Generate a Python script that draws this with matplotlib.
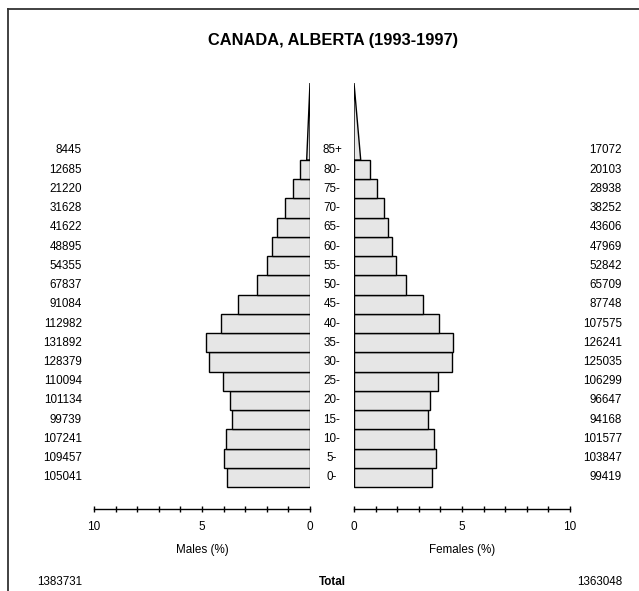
import matplotlib
matplotlib.use("Agg")
import matplotlib.pyplot as plt
from matplotlib.patches import Polygon
from matplotlib.lines import Line2D
import matplotlib.transforms as mtransforms

plt.rcParams['font.family'] = ['Liberation Sans', 'DejaVu Sans']

title = "CANADA, ALBERTA (1993-1997)"
age_groups = ["0-", "5-", "10-", "15-", "20-", "25-", "30-", "35-", "40-",
              "45-", "50-", "55-", "60-", "65-", "70-", "75-", "80-", "85+"]
males = [105041, 109457, 107241, 99739, 101134, 110094, 128379, 131892, 112982,
         91084, 67837, 54355, 48895, 41622, 31628, 21220, 12685, 8445]
females = [99419, 103847, 101577, 94168, 96647, 106299, 125035, 126241, 107575,
           87748, 65709, 52842, 47969, 43606, 38252, 28938, 20103, 17072]
male_total = 1383731
female_total = 1363048
tick_values = list(range(0, 11))
tick_labels = ["0" if v == 0 else ("5" if v == 5 else ("10" if v == 10 else "")) for v in tick_values]

W, H = 639, 591
fig = plt.figure(figsize=(W / 100, H / 100), dpi=100)
fig.patch.set_facecolor("white")

grand = male_total + female_total
mpct = [m / grand * 100 for m in males]
fpct = [f / grand * 100 for f in females]

# axes geometry (pixels)
y_top_px, y_axis_px = 83, 509
ylo, yhi = -1.64, 20.5
def fx(px):
    return px / W
ax_b = (H - y_axis_px) / H
ax_h = (y_axis_px - y_top_px) / H
axm = fig.add_axes([fx(94), ax_b, fx(310) - fx(94), ax_h])
axf = fig.add_axes([fx(354), ax_b, fx(570) - fx(354), ax_h])

face = "#e6e6e6"
n = len(age_groups)
for ax, pct in ((axm, mpct), (axf, fpct)):
    ax.barh(range(n - 1), pct[:n - 1], height=1.0, left=0, color=face,
            edgecolor="black", linewidth=1.0)
    w = pct[-1] / 2.0
    tri = Polygon([(0, n - 1.5), (w, n - 1.5), (0, n + 2.5)], closed=True,
                  facecolor=face, edgecolor="black", linewidth=1.0)
    ax.add_patch(tri)
    ax.set_ylim(ylo, yhi)
    ax.set_facecolor("none")
    for s in ("left", "right", "top"):
        ax.spines[s].set_visible(False)
    ax.spines["bottom"].set_linewidth(1.0)
    ax.set_yticks([])
    ax.set_xticks(tick_values)
    ax.set_xticklabels(tick_labels)
    ax.tick_params(axis="x", direction="inout", length=5, width=1.0, pad=6,
                   labelsize=8.5)

axm.set_xlim(10, 0)
axf.set_xlim(0, 10)

tr = mtransforms.blended_transform_factory(fig.transFigure, axm.transData)
for i in range(n):
    fig.text(fx(332), i, age_groups[i], transform=tr, ha="center", va="center", fontsize=8.4)
    fig.text(fx(82), i, str(males[i]), transform=tr, ha="right", va="center", fontsize=8.4)
    fig.text(fx(622), i, str(females[i]), transform=tr, ha="right", va="center", fontsize=8.4)

fig.text(fx(333), 1 - 41 / H, title, ha="center", va="center", fontsize=11.8, fontweight="bold")
fig.text(fx(202), 1 - 550 / H, "Males (%)", ha="center", va="center", fontsize=8.4)
fig.text(fx(462), 1 - 550 / H, "Females (%)", ha="center", va="center", fontsize=8.4)
fig.text(fx(82), 1 - 582 / H, str(male_total), ha="right", va="center", fontsize=8.4)
fig.text(fx(332), 1 - 582 / H, "Total", ha="center", va="center", fontsize=8.4, fontweight="bold")
fig.text(fx(622), 1 - 582 / H, str(female_total), ha="right", va="center", fontsize=8.4)

# frame
fig.add_artist(Line2D([8 / W, 8 / W], [0, 1 - 9 / H], transform=fig.transFigure,
                      color="#333333", linewidth=1.3))
fig.add_artist(Line2D([8 / W, 1], [1 - 9 / H, 1 - 9 / H], transform=fig.transFigure,
                      color="#333333", linewidth=1.3))

fig.savefig("out.png", dpi=100)
